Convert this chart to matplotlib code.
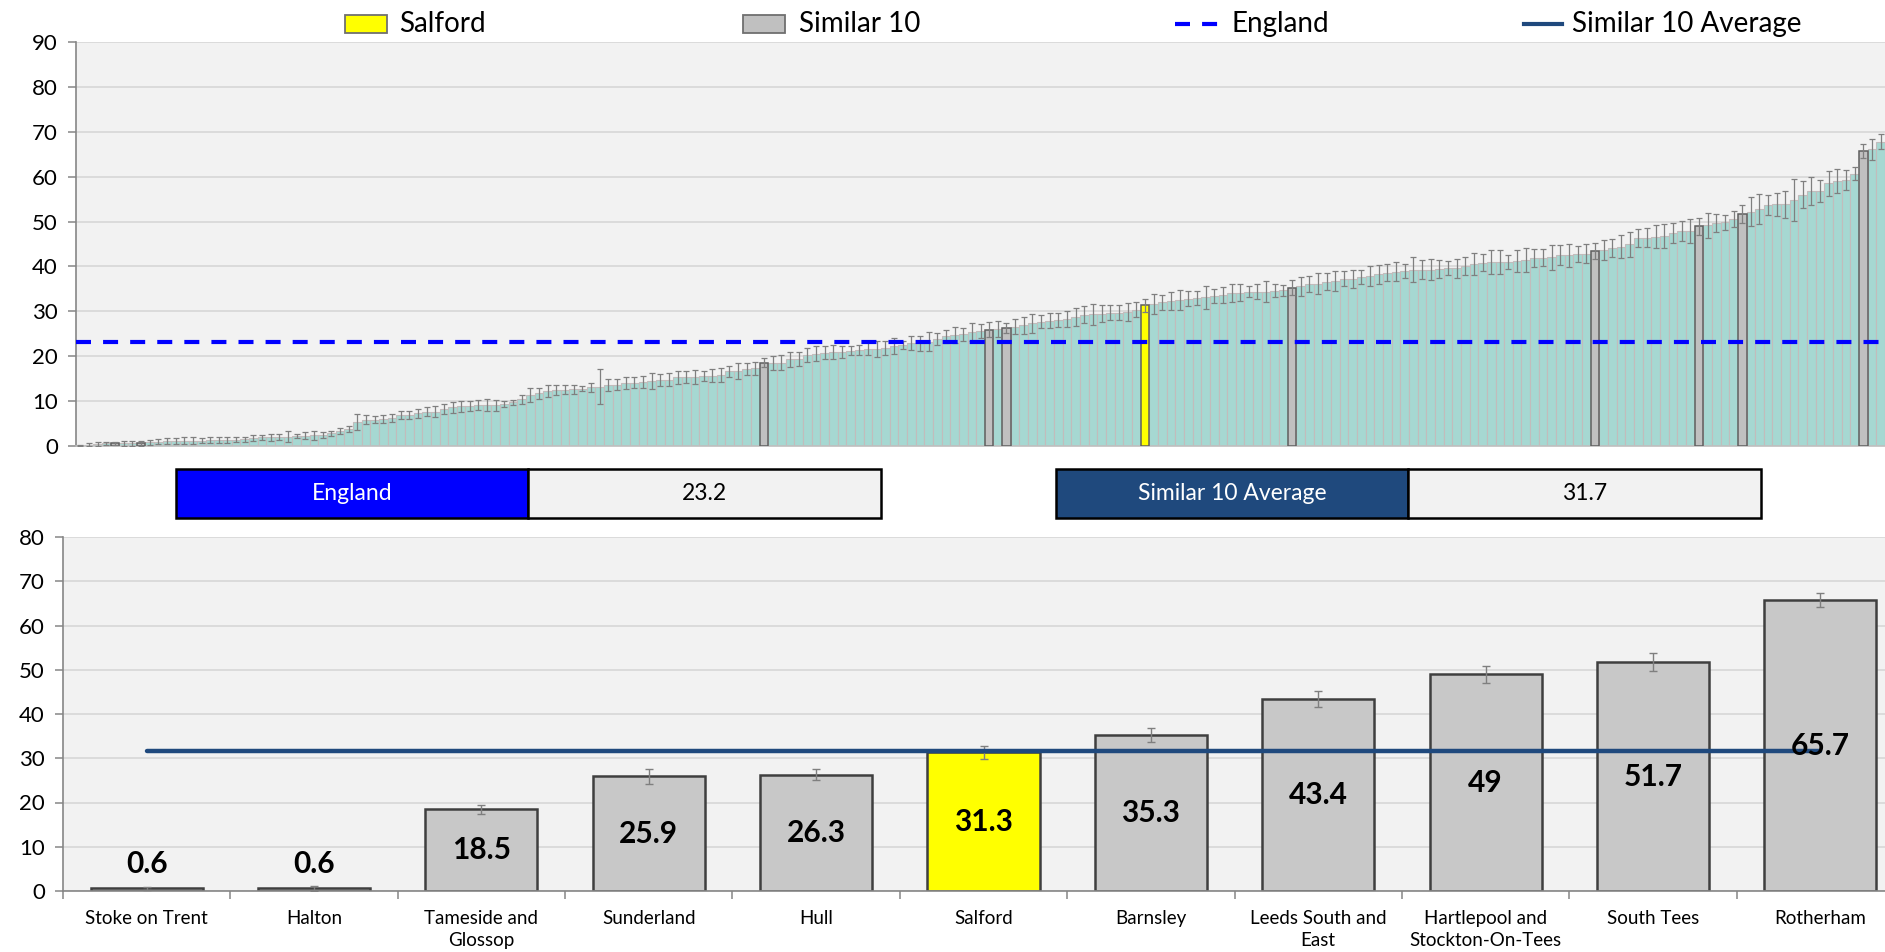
import matplotlib
matplotlib.use("Agg")
import matplotlib.pyplot as plt
from matplotlib.patches import Rectangle
from matplotlib.lines import Line2D

plt.rcParams['font.family'] = ['Lato', 'DejaVu Sans']

# rate per area, all areas sorted ascending
all_values = [
    0.1, 0.3, 0.5, 0.6, 0.6, 0.6, 0.6, 0.6, 0.8, 1.0,
    1.1, 1.1, 1.2, 1.2, 1.2, 1.3, 1.3, 1.3, 1.4, 1.5,
    1.8, 1.9, 1.9, 2.0, 2.1, 2.2, 2.3, 2.4, 2.5, 2.8,
    3.3, 3.8, 5.4, 5.9, 5.9, 6.0, 6.2, 6.9, 6.9, 7.3,
    7.6, 7.6, 8.2, 8.6, 8.8, 8.9, 9.1, 9.1, 9.1, 9.3,
    9.7, 10.4, 11.4, 11.7, 12.3, 12.5, 12.5, 12.6, 12.8, 13.1,
    13.2, 13.6, 13.7, 14.0, 14.1, 14.3, 14.5, 14.7, 14.8, 15.3,
    15.4, 15.4, 15.6, 15.7, 15.8, 16.6, 16.7, 17.1, 17.3, 18.5,
    18.5, 18.6, 19.3, 19.4, 20.3, 20.6, 20.8, 20.9, 20.9, 21.2,
    21.4, 21.7, 21.7, 21.9, 22.3, 22.5, 22.9, 22.9, 23.2, 23.8,
    24.4, 24.7, 24.9, 25.3, 25.6, 25.9, 26.0, 26.3, 26.6, 26.9,
    27.3, 27.7, 27.9, 28.1, 28.2, 28.7, 29.2, 29.3, 29.5, 29.7,
    29.7, 29.9, 30.4, 31.3, 31.6, 32.0, 32.4, 32.5, 32.8, 32.9,
    33.1, 33.4, 33.6, 34.0, 34.1, 34.4, 34.4, 34.4, 34.6, 34.7,
    35.3, 35.6, 36.1, 36.2, 36.6, 36.8, 37.3, 37.3, 37.7, 37.9,
    38.3, 38.6, 38.8, 39.0, 39.3, 39.3, 39.3, 39.5, 39.6, 39.6,
    40.1, 40.5, 40.8, 41.0, 41.0, 41.0, 41.2, 41.4, 41.8, 41.9,
    42.0, 42.5, 42.5, 42.8, 42.8, 43.4, 43.7, 44.1, 44.4, 44.9,
    46.3, 46.4, 46.6, 46.8, 47.4, 47.9, 47.9, 49.0, 49.2, 49.6,
    49.8, 50.6, 51.7, 52.2, 52.8, 53.7, 53.8, 53.9, 54.8, 56.0,
    56.8, 56.8, 58.5, 59.0, 59.2, 60.7, 65.7, 66.1, 67.8,
]

# half width of the confidence interval for each area
all_err = [
    0.1, 0.3, 0.4, 0.4, 0.3, 0.5, 0.6, 0.6, 0.5, 0.6,
    0.6, 0.6, 0.7, 0.7, 0.6, 0.7, 0.6, 0.6, 0.5, 0.5,
    0.6, 0.6, 0.7, 0.6, 1.3, 0.5, 0.8, 1.0, 0.7, 0.6,
    0.7, 0.7, 1.8, 0.9, 0.8, 0.8, 0.9, 0.9, 0.9, 1.0,
    1.0, 1.2, 1.1, 1.3, 1.2, 1.2, 1.1, 1.3, 1.2, 0.7,
    0.6, 1.0, 1.5, 1.2, 1.4, 1.2, 1.0, 1.0, 0.6, 1.0,
    3.9, 1.3, 1.2, 1.3, 1.2, 1.4, 1.7, 1.4, 1.5, 1.4,
    1.3, 1.6, 1.2, 1.4, 1.5, 1.3, 1.7, 1.3, 1.5, 1.0,
    1.5, 1.6, 1.7, 1.6, 1.5, 1.7, 1.4, 1.6, 1.3, 1.0,
    1.2, 1.5, 1.8, 1.6, 1.8, 1.0, 1.5, 1.7, 2.1, 1.4,
    1.5, 1.7, 1.4, 2.0, 1.6, 1.7, 1.8, 1.2, 1.7, 1.9,
    2.2, 1.5, 1.7, 1.5, 1.8, 2.0, 1.9, 2.4, 1.8, 1.7,
    1.6, 2.0, 1.7, 1.5, 2.3, 1.6, 2.0, 2.3, 1.7, 1.6,
    2.6, 1.6, 1.8, 2.0, 1.9, 1.3, 1.7, 2.3, 1.4, 1.2,
    1.6, 2.1, 1.8, 2.4, 1.9, 2.2, 1.7, 2.0, 1.5, 2.2,
    2.1, 1.9, 2.1, 1.5, 2.7, 2.1, 2.3, 2.0, 1.6, 2.1,
    2.0, 2.5, 1.9, 2.6, 2.7, 1.6, 2.4, 2.7, 2.0, 1.9,
    2.8, 2.2, 2.6, 1.8, 2.1, 1.8, 2.3, 2.1, 2.6, 2.7,
    2.0, 2.1, 2.6, 2.7, 2.2, 2.3, 2.7, 1.9, 2.8, 2.0,
    1.6, 1.8, 2.0, 3.2, 3.3, 2.2, 2.6, 3.0, 4.6, 3.0,
    3.1, 2.5, 2.8, 2.7, 2.2, 1.5, 1.6, 2.4, 1.7,
]

similar_names = [
    "Stoke on Trent", "Halton", "Tameside and\nGlossop", "Sunderland", "Hull",
    "Salford", "Barnsley", "Leeds South and\nEast", "Hartlepool and\nStockton-On-Tees",
    "South Tees", "Rotherham",
]
similar_values = [0.6, 0.6, 18.5, 25.9, 26.3, 31.3, 35.3, 43.4, 49, 51.7, 65.7]
similar_err = [0.3, 0.6, 1.0, 1.7, 1.2, 1.5, 1.6, 1.8, 1.9, 2.0, 1.6]
# position of each comparator in the sorted national list
similar_rank = [4, 7, 79, 105, 107, 123, 140, 175, 187, 192, 206]
home_name = "Salford"
england_value = 23.2
similar_avg = 31.7

TEAL = '#A6D8D2'
GREY = '#C0C0C0'
YELLOW = '#FFFF00'
PANEL = '#F2F2F2'
GRID = '#D9D9D9'
ENG_BLUE = '#0000FF'
AVG_BLUE = '#1F497D'
ERR = '#7F7F7F'

W, H = 1885, 952
fig = plt.figure(figsize=(W / 100, H / 100), dpi=100)


def px_rect(x0, y0, x1, y1):
    return [x0 / W, 1 - y1 / H, (x1 - x0) / W, (y1 - y0) / H]


def style_axes(ax, ymax):
    ax.set_facecolor(PANEL)
    ax.set_ylim(0, ymax)
    ax.set_yticks(range(0, ymax + 1, 10))
    ax.grid(axis='y', color=GRID, linewidth=1.3)
    ax.set_axisbelow(True)
    for side in ('top', 'right'):
        ax.spines[side].set_visible(False)
    ax.spines['left'].set_color('#868686')
    ax.spines['left'].set_linewidth(1.2)
    ax.spines['bottom'].set_color('#BFBFBF')
    ax.spines['bottom'].set_linewidth(1.2)
    ax.tick_params(axis='y', labelsize=16, length=6, width=1.1,
                   color='#868686', pad=7)


# ---- national ranking ----
ax1 = fig.add_axes(px_rect(76, 42, 1885, 446))
n = len(all_values)
xs = list(range(n))
ax1.bar(xs, all_values, width=1.0, color=TEAL, edgecolor='#C2BCBC',
        linewidth=0.8, zorder=2)

hi_vals = [all_values[r] for r in similar_rank]
hi_cols = [YELLOW if nm == home_name else GREY for nm in similar_names]
ax1.bar(similar_rank, hi_vals, width=1.0, color=hi_cols, edgecolor='#5F5F5F',
        linewidth=1.1, zorder=3)
ax1.errorbar(xs, all_values, yerr=all_err, fmt='none', ecolor=ERR,
             elinewidth=0.9, capsize=2.3, capthick=0.9, zorder=4)
ax1.plot([-0.5, n - 0.5], [england_value, england_value], color=ENG_BLUE,
         linewidth=3, linestyle=(0, (3.6, 2.9)), zorder=5)
ax1.set_xlim(-0.5, n - 0.5)
ax1.set_xticks([])
style_axes(ax1, 90)

# ---- legend along the top ----
ly = 24
def leg_patch(x, color, label, tx):
    fig.add_artist(Rectangle(((x) / W, 1 - (ly + 8.5) / H), 42 / W, 17 / H,
                             transform=fig.transFigure, facecolor=color,
                             edgecolor='#6F6F6F', linewidth=1.3))
    fig.text(tx / W, 1 - ly / H, label, fontsize=20, va='center', ha='left')

def leg_line(x0, x1, color, style, label, tx):
    fig.add_artist(Line2D([x0 / W, x1 / W], [1 - ly / H, 1 - ly / H],
                          transform=fig.transFigure, color=color, linewidth=3,
                          linestyle=style))
    fig.text(tx / W, 1 - ly / H, label, fontsize=20, va='center', ha='left')

leg_patch(345, YELLOW, "Salford", 399)
leg_patch(743, GREY, "Similar 10", 799)
leg_line(1175, 1219, ENG_BLUE, (0, (3.6, 2.9)), "England", 1232)
leg_line(1524, 1562, AVG_BLUE, '-', "Similar 10 Average", 1572)

# ---- value boxes ----
def value_box(x0, xm, x1, color, label, value):
    y0, y1 = 469, 518
    fig.add_artist(Rectangle((x0 / W, 1 - y1 / H), (xm - x0) / W, (y1 - y0) / H,
                             transform=fig.transFigure, facecolor=color,
                             edgecolor='black', linewidth=1.8))
    fig.add_artist(Rectangle((xm / W, 1 - y1 / H), (x1 - xm) / W, (y1 - y0) / H,
                             transform=fig.transFigure, facecolor=PANEL,
                             edgecolor='black', linewidth=1.8))
    yc = 1 - (y0 + y1) / 2 / H
    fig.text((x0 + xm) / 2 / W, yc, label, color='white', fontsize=16.5,
             ha='center', va='center')
    fig.text((xm + x1) / 2 / W, yc, f"{value:g}", color='black', fontsize=16.5,
             ha='center', va='center')

value_box(176, 528, 881, ENG_BLUE, "England", england_value)
value_box(1056, 1408, 1761, AVG_BLUE, "Similar 10 Average", similar_avg)

# ---- comparator areas ----
ax2 = fig.add_axes(px_rect(63, 537, 1904, 891))
m = len(similar_values)
cx = list(range(m))
ax2.bar(cx, similar_values, width=0.67, color=['#FFFF00' if nm == home_name
        else '#C8C8C8' for nm in similar_names], edgecolor='#3F3F3F',
        linewidth=1.8, zorder=2)
ax2.errorbar(cx, similar_values, yerr=similar_err, fmt='none', ecolor=ERR,
             elinewidth=1.0, capsize=3, capthick=1.0, zorder=3)
ax2.plot(cx, [similar_avg] * m, color=AVG_BLUE, linewidth=3.2,
         solid_capstyle='round', zorder=4)
for x, v in zip(cx, similar_values):
    ax2.text(x, max(v / 2, 6.2), f"{v:g}", ha='center', va='center',
             fontsize=21.5, fontweight='bold', zorder=5)
ax2.set_xlim(-0.5, m - 0.5)
style_axes(ax2, 80)
ax2.spines['bottom'].set_color('#868686')
ax2.set_xticks(cx)
ax2.set_xticklabels(similar_names, fontsize=13.5, linespacing=1.35)
ax2.set_xticks([i + 0.5 for i in range(-1, m)], minor=True)
ax2.tick_params(axis='x', which='major', length=0, pad=14)
ax2.tick_params(axis='x', which='minor', length=6, color='#868686', width=1.1)

fig.savefig("out.png", dpi=100)
